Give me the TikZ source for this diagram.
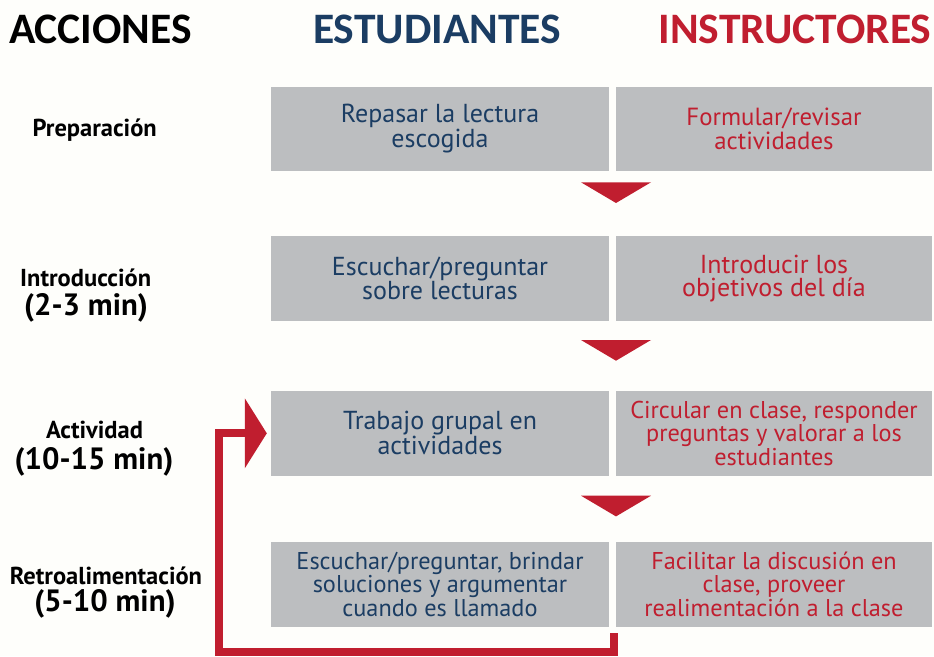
\documentclass[tikz,border=0pt]{standalone}
\usepackage{fontspec}
\setmainfont{PT Sans}
\newfontfamily\headfont{Carlito}
\usepackage{tikz}
\usetikzlibrary{arrows.meta}
\definecolor{azul}{RGB}{27,61,99}
\definecolor{rojo}{RGB}{192,30,47}
\definecolor{gris}{RGB}{188,190,192}
\definecolor{fondo}{RGB}{254,254,251}

\begin{document}
\begin{tikzpicture}[x=1pt,y=-1pt]
\tikzstyle{caja}=[fill=gris, inner sep=0pt, align=center,
                  minimum height=84.5pt, font=\fontsize{26}{23.5}\selectfont]
\tikzstyle{largo}=[font=\fontsize{24.3}{23.5}\selectfont]
\tikzstyle{est}=[caja, minimum width=338pt, text=azul]
\tikzstyle{ins}=[caja, minimum width=316pt, text=rojo]
\tikzstyle{titulo}=[anchor=base, inner sep=0pt,
                    font=\headfont\bfseries\fontsize{43.5}{43.5}\selectfont]
\tikzstyle{accion}=[anchor=base, inner sep=0pt, text depth=0pt,
                    font=\bfseries\fontsize{24.5}{24.5}\selectfont]
\tikzstyle{tiempo}=[anchor=base, inner sep=0pt, text height=21pt,
                    font=\bfseries\fontsize{30.8}{30.8}\selectfont]
\fill[fondo] (0,0) rectangle (934,656);
\useasboundingbox (0,0) rectangle (934,656);
% encabezados
\node[titulo] (h1) at (100.5,43) {ACCIONES};
\node[titulo, text=azul] (h2) at (437,43) {ESTUDIANTES};
\node[titulo, text=rojo] (h3) at (795,43) {INSTRUCTORES};
% acciones
\node[accion] (a1) at (94.7,136) {Preparación};
\node[accion] (a2) at (85.7,286.5) {Introducción};
\node[tiempo] (t2) at (86,315) {(2-3 min)};
\node[accion] (a3) at (94.5,438.5) {Actividad};
\node[tiempo] (t3) at (94,469) {(10-15 min)};
\node[accion] (a4) at (106,584) {Retroalimentación};
\node[tiempo] (t4) at (105,611.5) {(5-10 min)};
% cajas
\node[est] (s1) at (440,128.8) {Repasar la lectura\\escogida};
\node[ins, font=\fontsize{24.8}{23.5}\selectfont] (i1) at (774,128.8) {Formular/revisar\\actividades};
\node[est] (s2) at (440,278.3) {Escuchar/preguntar\\sobre lecturas};
\node[ins] (i2) at (774,278.3) {Introducir los\\objetivos del día};
\node[est] (s3) at (440,433.3) {Trabajo grupal en\\actividades};
\node[ins, largo] (i3) at (774,433.3) {Circular en clase, responder\\preguntas y valorar a los\\estudiantes};
\node[est, largo] (s4) at (440,584.3) {Escuchar/preguntar, brindar\\soluciones y argumentar\\cuando es llamado};
\node[ins, largo] (i4) at (774,584.3) {Facilitar la discusión en\\clase, proveer\\realimentación a la clase};
% flechas
\foreach \y in {182.3,340,495.7}{\fill[rojo] (581,\y) -- (651,\y) -- (616,\y+20.7) -- cycle;}
\coordinate (vuelta) at (613.7,633);
\coordinate (esquina) at (218.8,652);
\draw[rojo, line width=7.7pt, line join=miter, shorten >=4pt,
      -{Triangle[length=22pt,width=69pt]}] (vuelta) |- (esquina) |- (s3.west);
\end{tikzpicture}
\end{document}
